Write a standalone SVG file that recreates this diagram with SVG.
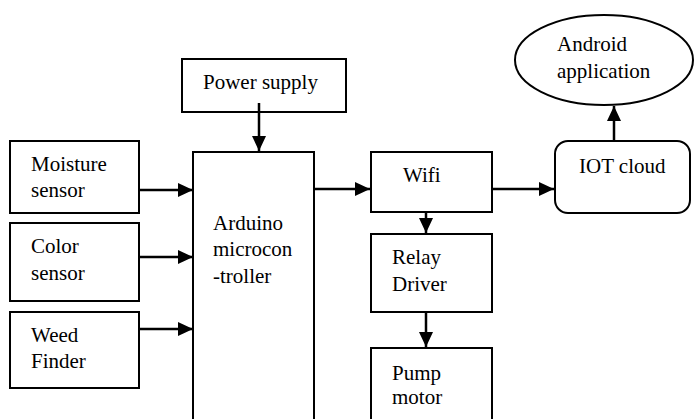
<svg xmlns="http://www.w3.org/2000/svg" width="695" height="419" viewBox="0 0 695 419" font-family="'Liberation Serif', 'Times New Roman', serif">
<defs>
<marker id="ah" markerUnits="userSpaceOnUse" markerWidth="16" markerHeight="14" refX="15" refY="7" orient="auto">
<path d="M0,0 L15,7 L0,14 z" fill="#000"/>
</marker>
<style>
.box{fill:#fff;stroke:#000;stroke-width:2}
.t{font-family:'Liberation Serif','Times New Roman',serif;font-size:21px;fill:#000}
.c{stroke:#000;stroke-width:2.5;fill:none;marker-end:url(#ah)}
</style>
</defs>
<rect width="695" height="419" fill="#fff"/>
<g id="power"><rect class="box" x="182" y="59" width="164" height="53"/><text class="t" x="203" y="89">Power supply</text></g>
<g id="moisture"><rect class="box" x="10" y="141" width="129" height="72"/><text class="t" x="31" y="171">Moisture</text><text class="t" x="31" y="197">sensor</text></g>
<g id="color"><rect class="box" x="10" y="223" width="129" height="78"/><text class="t" x="31" y="253">Color</text><text class="t" x="31" y="280">sensor</text></g>
<g id="weed"><rect class="box" x="10" y="312" width="129" height="76"/><text class="t" x="31" y="342">Weed</text><text class="t" x="31" y="368">Finder</text></g>
<g id="arduino"><rect class="box" x="193" y="152" width="121" height="280"/><text class="t" x="213" y="230">Arduino</text><text class="t" x="213" y="256">microcon</text><text class="t" x="213" y="283">-troller</text></g>
<g id="wifi"><rect class="box" x="371" y="152" width="121" height="60"/><text class="t" x="403" y="182">Wifi</text></g>
<g id="relay"><rect class="box" x="371" y="234" width="121" height="78"/><text class="t" x="392" y="264">Relay</text><text class="t" x="392" y="291">Driver</text></g>
<g id="pump"><rect class="box" x="371" y="348" width="121" height="84"/><text class="t" x="392" y="380">Pump</text><text class="t" x="392" y="404">motor</text></g>
<g id="iot"><rect class="box" x="555" y="141" width="135" height="72" rx="13" ry="13"/><text class="t" x="579" y="173">IOT cloud</text></g>
<g id="android"><ellipse class="box" cx="604" cy="60" rx="89" ry="45"/><text class="t" x="557" y="51">Android</text><text class="t" x="557" y="78">application</text></g>
<g id="connectors">
<path class="c" d="M259,103 L259,151"/>
<path class="c" d="M139,190 L193,190"/>
<path class="c" d="M139,257 L193,257"/>
<path class="c" d="M139,329 L193,329"/>
<path class="c" d="M314,189 L370,189"/>
<path class="c" d="M492,189 L554,189"/>
<path class="c" d="M426,212 L426,233"/>
<path class="c" d="M426,312 L426,347"/>
<path class="c" d="M614,141 L614,106"/>
</g>
</svg>
